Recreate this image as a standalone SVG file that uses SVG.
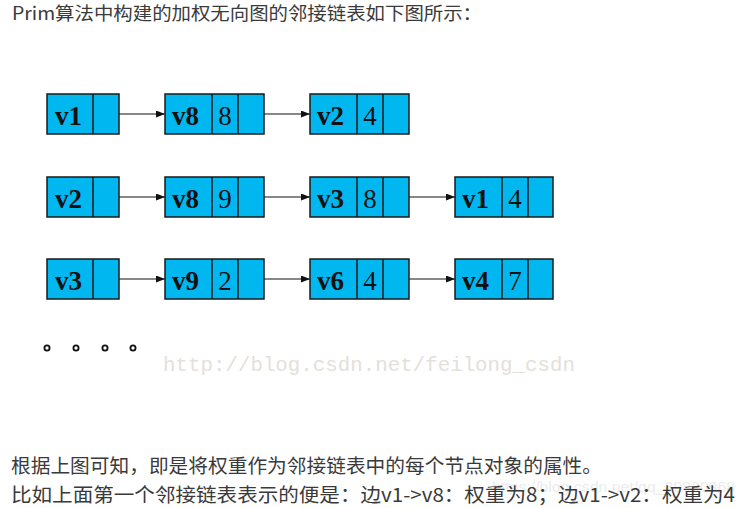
<svg xmlns="http://www.w3.org/2000/svg" width="745" height="508" viewBox="0 0 745 508">
<style>
.cell{fill:#00b7f0;stroke:#1a1a1a;stroke-width:1.5}
.div{stroke:#1a1a1a;stroke-width:1.5}
.nm{font-family:"Liberation Serif","Times New Roman",serif;font-weight:bold;font-size:27px;fill:#111}
.wt{font-family:"Liberation Serif","Times New Roman",serif;font-size:27px;fill:#111;text-anchor:middle}
.con{stroke:#111;stroke-width:1.2;fill:none;marker-end:url(#ah)}
.txt{font-family:"Noto Sans CJK SC","Microsoft YaHei",sans-serif;fill:#3a3a3a}
.dot{fill:none;stroke:#111;stroke-width:1.8}
</style>
<defs>
<marker id="ah" markerWidth="9" markerHeight="7" refX="9" refY="3.5" orient="auto" markerUnits="userSpaceOnUse">
<path d="M0,0 L9,3.5 L0,7 Z" fill="#111"/>
</marker>
</defs>
<rect width="745" height="508" fill="#ffffff"/>
<text class="txt" x="12" y="20" font-size="18" textLength="470" lengthAdjust="spacingAndGlyphs">Prim算法中构建的加权无向图的邻接链表如下图所示：</text>

<g id="connectors">
<line class="con" x1="107" y1="114" x2="165" y2="114"/>
<line class="con" x1="252" y1="114" x2="310" y2="114"/>
<line class="con" x1="107" y1="197" x2="165" y2="197"/>
<line class="con" x1="252" y1="197" x2="310" y2="197"/>
<line class="con" x1="397" y1="197" x2="455" y2="197"/>
<line class="con" x1="107" y1="279" x2="165" y2="279"/>
<line class="con" x1="252" y1="279" x2="310" y2="279"/>
<line class="con" x1="397" y1="279" x2="455" y2="279"/>
</g>

<!-- Row 1 -->
<g id="r1-v1">
<rect class="cell" x="47" y="94" width="72" height="40"/>
<line class="div" x1="93" y1="94" x2="93" y2="134"/>
<text class="nm" x="55" y="125">v1</text>
</g>
<g id="r1-v8">
<rect class="cell" x="165" y="94" width="99" height="40"/>
<line class="div" x1="212" y1="94" x2="212" y2="134"/>
<line class="div" x1="238" y1="94" x2="238" y2="134"/>
<text class="nm" x="172" y="125">v8</text>
<text class="wt" x="225" y="125">8</text>
</g>
<g id="r1-v2">
<rect class="cell" x="310" y="94" width="99" height="40"/>
<line class="div" x1="357" y1="94" x2="357" y2="134"/>
<line class="div" x1="383" y1="94" x2="383" y2="134"/>
<text class="nm" x="317" y="125">v2</text>
<text class="wt" x="370" y="125">4</text>
</g>

<!-- Row 2 -->
<g id="r2-v2">
<rect class="cell" x="47" y="177" width="72" height="40"/>
<line class="div" x1="93" y1="177" x2="93" y2="217"/>
<text class="nm" x="55" y="208">v2</text>
</g>
<g id="r2-v8">
<rect class="cell" x="165" y="177" width="99" height="40"/>
<line class="div" x1="212" y1="177" x2="212" y2="217"/>
<line class="div" x1="238" y1="177" x2="238" y2="217"/>
<text class="nm" x="172" y="208">v8</text>
<text class="wt" x="225" y="208">9</text>
</g>
<g id="r2-v3">
<rect class="cell" x="310" y="177" width="99" height="40"/>
<line class="div" x1="357" y1="177" x2="357" y2="217"/>
<line class="div" x1="383" y1="177" x2="383" y2="217"/>
<text class="nm" x="317" y="208">v3</text>
<text class="wt" x="370" y="208">8</text>
</g>
<g id="r2-v1">
<rect class="cell" x="455" y="177" width="98" height="40"/>
<line class="div" x1="502" y1="177" x2="502" y2="217"/>
<line class="div" x1="528" y1="177" x2="528" y2="217"/>
<text class="nm" x="462" y="208">v1</text>
<text class="wt" x="515" y="208">4</text>
</g>

<!-- Row 3 -->
<g id="r3-v3">
<rect class="cell" x="47" y="259" width="72" height="40"/>
<line class="div" x1="93" y1="259" x2="93" y2="299"/>
<text class="nm" x="55" y="290">v3</text>
</g>
<g id="r3-v9">
<rect class="cell" x="165" y="259" width="99" height="40"/>
<line class="div" x1="212" y1="259" x2="212" y2="299"/>
<line class="div" x1="238" y1="259" x2="238" y2="299"/>
<text class="nm" x="172" y="290">v9</text>
<text class="wt" x="225" y="290">2</text>
</g>
<g id="r3-v6">
<rect class="cell" x="310" y="259" width="99" height="40"/>
<line class="div" x1="357" y1="259" x2="357" y2="299"/>
<line class="div" x1="383" y1="259" x2="383" y2="299"/>
<text class="nm" x="317" y="290">v6</text>
<text class="wt" x="370" y="290">4</text>
</g>
<g id="r3-v4">
<rect class="cell" x="455" y="259" width="98" height="40"/>
<line class="div" x1="502" y1="259" x2="502" y2="299"/>
<line class="div" x1="528" y1="259" x2="528" y2="299"/>
<text class="nm" x="462" y="290">v4</text>
<text class="wt" x="515" y="290">7</text>
</g>

<g id="ellipsis">
<circle class="dot" cx="47" cy="348" r="2.6"/>
<circle class="dot" cx="76" cy="348" r="2.6"/>
<circle class="dot" cx="105" cy="348" r="2.6"/>
<circle class="dot" cx="133" cy="348" r="2.6"/>
</g>

<text x="163" y="371" font-family="Liberation Mono, monospace" font-size="21" fill="#e4e0da" textLength="412" lengthAdjust="spacingAndGlyphs">http://blog.csdn.net/feilong_csdn</text>
<text x="492" y="492" font-family="Liberation Sans, Arial, sans-serif" font-size="14" fill="#ececec" textLength="243" lengthAdjust="spacingAndGlyphs">https://blog.csdn.net/qq_39920968</text>

<text class="txt" x="11" y="473" font-size="19.5" textLength="591" lengthAdjust="spacingAndGlyphs">根据上图可知，即是将权重作为邻接链表中的每个节点对象的属性。</text>
<text class="txt" x="11" y="502" font-size="19.5" textLength="724" lengthAdjust="spacingAndGlyphs">比如上面第一个邻接链表表示的便是：边v1-&gt;v8：权重为8；边v1-&gt;v2：权重为4</text>
</svg>
